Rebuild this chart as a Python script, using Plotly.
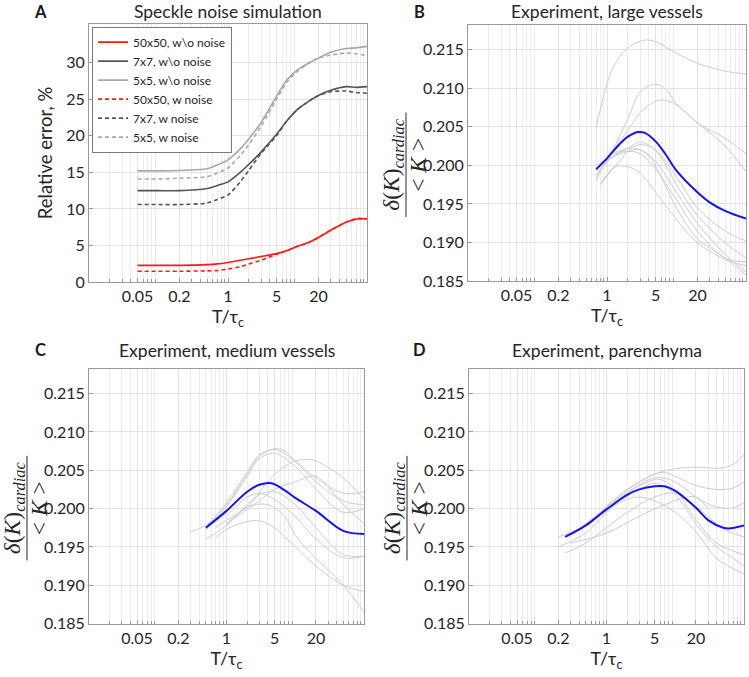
import plotly.graph_objects as go

W, H = 749, 677

# ---------------- Panel A data ----------------
X_SIM = [0.05, 0.1, 0.2, 0.5, 0.7, 1, 1.5, 2, 3, 5, 7, 10, 15, 20, 30, 50, 70, 100]
E50_WO = [2.3, 2.3, 2.3, 2.4, 2.5, 2.7, 3.0, 3.2, 3.5, 3.9, 4.3, 4.9, 5.5, 6.1, 7.1, 8.2, 8.6, 8.7]
E7_WO = [12.5, 12.5, 12.5, 12.8, 13.2, 13.7, 15.0, 16.1, 17.8, 20.2, 22.0, 23.6, 24.8, 25.5, 26.2, 26.7, 26.6, 26.7]
E5_WO = [15.2, 15.2, 15.25, 15.5, 16.0, 16.7, 18.2, 19.6, 21.8, 25.4, 27.6, 29.0, 30.0, 30.6, 31.4, 31.9, 32.0, 32.2]
E50_W = [1.5, 1.5, 1.5, 1.55, 1.6, 1.8, 2.1, 2.5, 3.0, 3.8, 4.3, 4.9, 5.5, 6.1, 7.1, 8.2, 8.7, 8.6]
E7_W = [10.6, 10.6, 10.6, 10.8, 11.3, 11.9, 13.7, 15.3, 17.6, 20.0, 22.0, 23.6, 24.8, 25.5, 26.0, 26.1, 25.9, 25.8]
E5_W = [14.1, 14.1, 14.2, 14.4, 14.9, 15.6, 17.3, 18.8, 21.3, 25.0, 27.3, 28.8, 30.0, 30.6, 31.0, 31.3, 31.2, 30.9]

SIM_NAMES = ["50x50, w\\o noise", "7x7, w\\o noise", "5x5, w\\o noise",
             "50x50, w noise", "7x7, w noise", "5x5, w noise"]

# ---------------- Panel B data ----------------
B_MEAN_X = [0.7, 1, 1.5, 2, 2.8, 3.5, 5, 7, 10, 20, 30, 50, 100]
B_MEAN_Y = [0.1995, 0.2009, 0.2027, 0.2037, 0.2043, 0.2042, 0.2031, 0.2014, 0.1993, 0.1965, 0.1952, 0.1941, 0.1931]
B_GRAY_X = [
    [0.7, 1.2, 2, 3.5, 5, 10, 20, 50, 100],
    [1, 2, 3, 5, 7, 10, 20, 50, 100],
    [1, 2, 3, 5, 7, 10, 20, 50, 100],
    [0.7, 1, 2, 3, 5, 10, 20, 50, 100],
    [0.7, 1.2, 2, 3, 5, 10, 20, 50, 100],
    [0.8, 1.3, 2, 3, 5, 10, 20, 50, 100],
    [0.7, 1.5, 2.5, 4, 6, 10, 20, 50, 100],
    [0.7, 1, 2, 3, 5, 10, 20, 50, 100],
    [0.8, 1.5, 2.5, 4, 6, 10, 20, 50, 100],
]
B_GRAY_Y = [
    [0.2048, 0.2125, 0.2152, 0.2162, 0.2160, 0.2145, 0.2132, 0.2122, 0.2118],
    [0.2005, 0.2060, 0.2095, 0.2105, 0.2098, 0.2080, 0.2055, 0.2035, 0.2015],
    [0.2010, 0.2045, 0.2068, 0.2083, 0.2084, 0.2078, 0.2055, 0.2025, 0.1992],
    [0.1985, 0.2005, 0.2022, 0.2030, 0.2020, 0.1985, 0.1945, 0.1915, 0.1902],
    [0.1980, 0.2015, 0.2018, 0.2015, 0.1995, 0.1955, 0.1915, 0.1880, 0.1875],
    [0.1975, 0.1998, 0.1998, 0.1990, 0.1965, 0.1930, 0.1900, 0.1878, 0.1870],
    [0.1988, 0.2018, 0.2022, 0.2012, 0.1985, 0.1945, 0.1905, 0.1880, 0.1858],
    [0.2000, 0.2008, 0.2018, 0.2020, 0.2005, 0.1965, 0.1925, 0.1885, 0.1862],
    [0.1975, 0.2005, 0.2025, 0.2025, 0.2010, 0.1975, 0.1935, 0.1900, 0.1880],
]

# ---------------- Panel C data ----------------
C_MEAN_X = [0.5, 1, 2, 3, 4.5, 7, 10, 20, 50, 100]
C_MEAN_Y = [0.1975, 0.1997, 0.2022, 0.2031, 0.2033, 0.2024, 0.2014, 0.1997, 0.1971, 0.1967]
C_GRAY_X = [
    [0.3, 0.5, 1, 2, 3, 5, 7, 10, 20, 50, 100],
    [0.5, 1, 2, 3, 5, 10, 20, 50, 100],
    [0.5, 1, 2, 3, 5, 10, 20, 50, 100],
    [0.7, 1, 2, 5, 10, 15, 20, 50, 100],
    [1, 3, 5, 10, 20, 50, 100],
    [0.5, 1, 2, 3, 5, 10, 20, 50, 100],
    [0.7, 1, 2, 3, 5, 10, 20, 50, 100],
    [1, 2, 4, 7, 10, 20, 30, 50, 100],
    [1, 2, 3, 5, 10, 20, 50, 100],
]
C_GRAY_Y = [
    [0.1970, 0.1978, 0.2005, 0.2045, 0.2068, 0.2078, 0.2075, 0.2062, 0.2035, 0.2010, 0.2005],
    [0.1975, 0.2008, 0.2048, 0.2070, 0.2077, 0.2062, 0.2040, 0.2020, 0.2022],
    [0.1972, 0.2003, 0.2042, 0.2065, 0.2072, 0.2055, 0.2025, 0.1995, 0.2000],
    [0.1975, 0.1985, 0.2002, 0.2045, 0.2062, 0.2064, 0.2062, 0.2040, 0.2012],
    [0.1980, 0.2010, 0.2025, 0.2035, 0.2042, 0.2005, 0.1980],
    [0.1960, 0.1978, 0.2005, 0.2018, 0.2022, 0.2005, 0.1975, 0.1940, 0.1938],
    [0.1962, 0.1973, 0.1983, 0.1984, 0.1975, 0.1950, 0.1925, 0.1900, 0.1892],
    [0.1980, 0.2002, 0.2005, 0.1990, 0.1965, 0.1935, 0.1920, 0.1900, 0.1865],
    [0.1990, 0.2015, 0.2020, 0.2012, 0.1990, 0.1960, 0.1936, 0.1938],
]

# ---------------- Panel D data ----------------
D_MEAN_X = [0.25, 0.5, 1, 2, 3, 5, 7, 10, 20, 30, 50, 60, 100]
D_MEAN_Y = [0.1963, 0.1978, 0.1999, 0.2018, 0.2025, 0.2029, 0.2029, 0.2023, 0.2001, 0.1985, 0.1975, 0.1974, 0.1978]
D_GRAY_X = [
    [0.2, 0.5, 1, 2, 5, 10, 20, 50, 70, 100],
    [0.25, 0.5, 1, 2, 5, 7, 10, 20, 40, 70, 100],
    [0.2, 0.5, 1, 2, 5, 10, 20, 40, 70, 100],
    [0.25, 0.5, 1, 2, 5, 10, 20, 40, 60, 100],
    [0.3, 1, 3, 7, 15, 20, 30],
    [0.3, 1, 3, 5, 10, 20, 40, 70, 100],
    [0.5, 1, 2, 3, 5, 10, 20, 40, 100],
    [1, 3, 6, 10, 20, 40, 100],
]
D_GRAY_Y = [
    [0.1963, 0.1978, 0.2003, 0.2025, 0.2045, 0.2052, 0.2054, 0.2053, 0.2058, 0.2070],
    [0.1966, 0.1978, 0.2002, 0.2024, 0.2045, 0.2047, 0.2042, 0.2030, 0.2025, 0.2027, 0.2035],
    [0.1950, 0.1968, 0.1995, 0.2020, 0.2040, 0.2035, 0.2015, 0.2002, 0.2001, 0.2008],
    [0.1942, 0.1955, 0.1975, 0.1995, 0.2015, 0.2020, 0.2003, 0.1980, 0.1970, 0.1963],
    [0.1955, 0.1968, 0.1990, 0.2005, 0.2015, 0.2015, 0.2000],
    [0.1965, 0.2000, 0.2025, 0.2033, 0.2018, 0.1980, 0.1950, 0.1935, 0.1925],
    [0.1978, 0.1998, 0.2012, 0.2015, 0.2010, 0.1995, 0.1970, 0.1935, 0.1915],
    [0.2002, 0.2030, 0.2038, 0.2025, 0.1985, 0.1955, 0.1940],
]

X_TICKS = [0.05, 0.2, 1, 5, 20]
X_TICKTEXT = ["0.05", "0.2", "1", "5", "20"]
A_YTICKS = [0, 5, 10, 15, 20, 25, 30]
K_YTICKS = [0.185, 0.190, 0.195, 0.200, 0.205, 0.210, 0.215]
K_YTICKTEXT = ["0.185", "0.190", "0.195", "0.200", "0.205", "0.210", "0.215"]

TITLES = ["Speckle noise simulation", "Experiment, large vessels",
          "Experiment, medium vessels", "Experiment, parenchyma"]
LETTERS = ["A", "B", "C", "D"]

FONT = "Lato, 'Open Sans', sans-serif"
SERIF = "'Liberation Serif', 'DejaVu Serif', serif"
TXT = "#262626"
GRAY_LINE = "#cdcdcd"
BLUE = "#1414f0"


def px(xp):
    return xp / W


def py(yp):
    return 1 - yp / H


# plot area boxes in window pixels: (left, top, right, bottom)
BOX = [(89, 24, 367, 286), (468, 25, 746, 285), (89, 374, 364, 632), (469, 374, 744, 632)]
TITLE_GAP = [12, 13, 19, 19]

minor_vals = [m * 10 ** e for e in range(-2, 2) for m in range(2, 10)]

fig = go.Figure()
layout = dict(width=W, height=H, margin=dict(l=0, r=0, t=0, b=0),
              paper_bgcolor="white", plot_bgcolor="white",
              font=dict(family=FONT, size=16, color=TXT),
              showlegend=True)

annotations = []
shapes = []
for i, (l, t, r, b) in enumerate(BOX):
    sfx = "" if i == 0 else str(i + 1)
    xa = dict(domain=[px(l), px(r)], type="log", range=[-2, 2], anchor="y" + sfx,
              tickvals=X_TICKS, ticktext=X_TICKTEXT,
              showgrid=True, gridcolor="#e3e3e3", gridwidth=1,
              minor=dict(tickvals=minor_vals, showgrid=True, gridcolor="#ececec",
                         ticks="inside", ticklen=3, tickcolor="#9a9a9a"),
              ticks="inside", ticklen=4, tickcolor="#9a9a9a",
              showline=True, linecolor="#9a9a9a", linewidth=1, mirror=True,
              zeroline=False, tickfont=dict(size=16, color=TXT),
              title=dict(text="T/τ<sub>c</sub>", font=dict(size=18, color=TXT), standoff=4))
    if i == 0:
        ya = dict(domain=[py(b), py(t)], range=[0, 35.3], anchor="x", tickvals=A_YTICKS,
                  title=dict(text="Relative error, %", font=dict(size=18.5, color=TXT), standoff=8))
    else:
        ya = dict(domain=[py(b), py(t)], range=[0.185, 0.2182], anchor="x" + sfx,
                  tickvals=K_YTICKS, ticktext=K_YTICKTEXT)
    ya.update(showgrid=True, gridcolor="#e3e3e3", gridwidth=1,
              ticks="inside", ticklen=4, tickcolor="#9a9a9a",
              showline=True, linecolor="#9a9a9a", linewidth=1, mirror=True,
              zeroline=False, tickfont=dict(size=16, color=TXT))
    layout["xaxis" + sfx] = xa
    layout["yaxis" + sfx] = ya

    # title and panel letter
    ty = t - TITLE_GAP[i]
    annotations.append(dict(text=TITLES[i], xref="paper", yref="paper",
                            x=px((l + r) / 2), y=py(ty), showarrow=False,
                            xanchor="center", yanchor="middle",
                            font=dict(size=17.5, color=TXT)))
    annotations.append(dict(text="<b>" + LETTERS[i] + "</b>", xref="paper", yref="paper",
                            x=px(l - 49), y=py(ty), showarrow=False,
                            xanchor="center", yanchor="middle",
                            font=dict(size=16.5, color="#1a1a1a")))
    if i > 0:
        cy = (t + b) / 2 + 12
        annotations.append(dict(text="<i>δ</i>(<i>K</i>)<sub><i>cardiac</i></sub>",
                                xref="paper", yref="paper", x=px(l - 75), y=py(cy),
                                showarrow=False, textangle=-90, xanchor="center", yanchor="middle",
                                font=dict(family=SERIF, size=23.5, color=TXT)))
        annotations.append(dict(text="< <i>K</i> >",
                                xref="paper", yref="paper", x=px(l - 50), y=py(cy),
                                showarrow=False, textangle=-90, xanchor="center", yanchor="middle",
                                font=dict(family=SERIF, size=23.5, color=TXT)))
        shapes.append(dict(type="line", xref="paper", yref="paper",
                           x0=px(l - 62), x1=px(l - 62),
                           y0=py(cy - 53), y1=py(cy + 53),
                           line=dict(color=TXT, width=1)))

# Panel A traces
sim_series = [E50_WO, E7_WO, E5_WO, E50_W, E7_W, E5_W]
sim_colors = ["#ff1a1a", "#555555", "#a8a8a8", "#ff1a1a", "#555555", "#a8a8a8"]
sim_dash = ["solid", "solid", "solid", "4px,3px", "4px,3px", "4px,3px"]
for name, ys, c, d in zip(SIM_NAMES, sim_series, sim_colors, sim_dash):
    fig.add_trace(go.Scatter(x=X_SIM, y=ys, mode="lines", name=name,
                             line=dict(color=c, width=1.6, dash=d, shape="spline", smoothing=0.6),
                             xaxis="x", yaxis="y"))

# Panels B-D
for k, (gx, gy, mx, my) in enumerate([(B_GRAY_X, B_GRAY_Y, B_MEAN_X, B_MEAN_Y),
                                      (C_GRAY_X, C_GRAY_Y, C_MEAN_X, C_MEAN_Y),
                                      (D_GRAY_X, D_GRAY_Y, D_MEAN_X, D_MEAN_Y)]):
    sfx = str(k + 2)
    for xs, ys in zip(gx, gy):
        fig.add_trace(go.Scatter(x=xs, y=ys, mode="lines", showlegend=False,
                                 line=dict(color=GRAY_LINE, width=1, shape="spline", smoothing=1.0),
                                 xaxis="x" + sfx, yaxis="y" + sfx))
    fig.add_trace(go.Scatter(x=mx, y=my, mode="lines", showlegend=False,
                             line=dict(color=BLUE, width=2, shape="spline", smoothing=1.0),
                             xaxis="x" + sfx, yaxis="y" + sfx))

layout["legend"] = dict(x=px(92), y=py(27), xanchor="left", yanchor="top",
                        bgcolor="white", bordercolor="#7a7a7a", borderwidth=1,
                        font=dict(size=12, color=TXT), itemwidth=30,
                        tracegroupgap=0)
layout["annotations"] = annotations
layout["shapes"] = shapes
fig.update_layout(**layout)

PAGE_FIT = (
    "var de=document.documentElement, bd=document.body;"
    "de.style.margin='0'; de.style.padding='0'; de.style.overflow='hidden';"
    "de.style.height='677px'; bd.style.margin='0'; bd.style.padding='0';"
    "bd.style.overflow='hidden'; bd.style.height='677px';"
    "var g=document.getElementsByClassName('plotly-graph-div')[0];"
    "if(g && g.parentElement){g.parentElement.style.height='677px';"
    "g.parentElement.style.overflow='hidden';}"
)

fig.write_html("out.html", config={"displayModeBar": False}, post_script=PAGE_FIT)
